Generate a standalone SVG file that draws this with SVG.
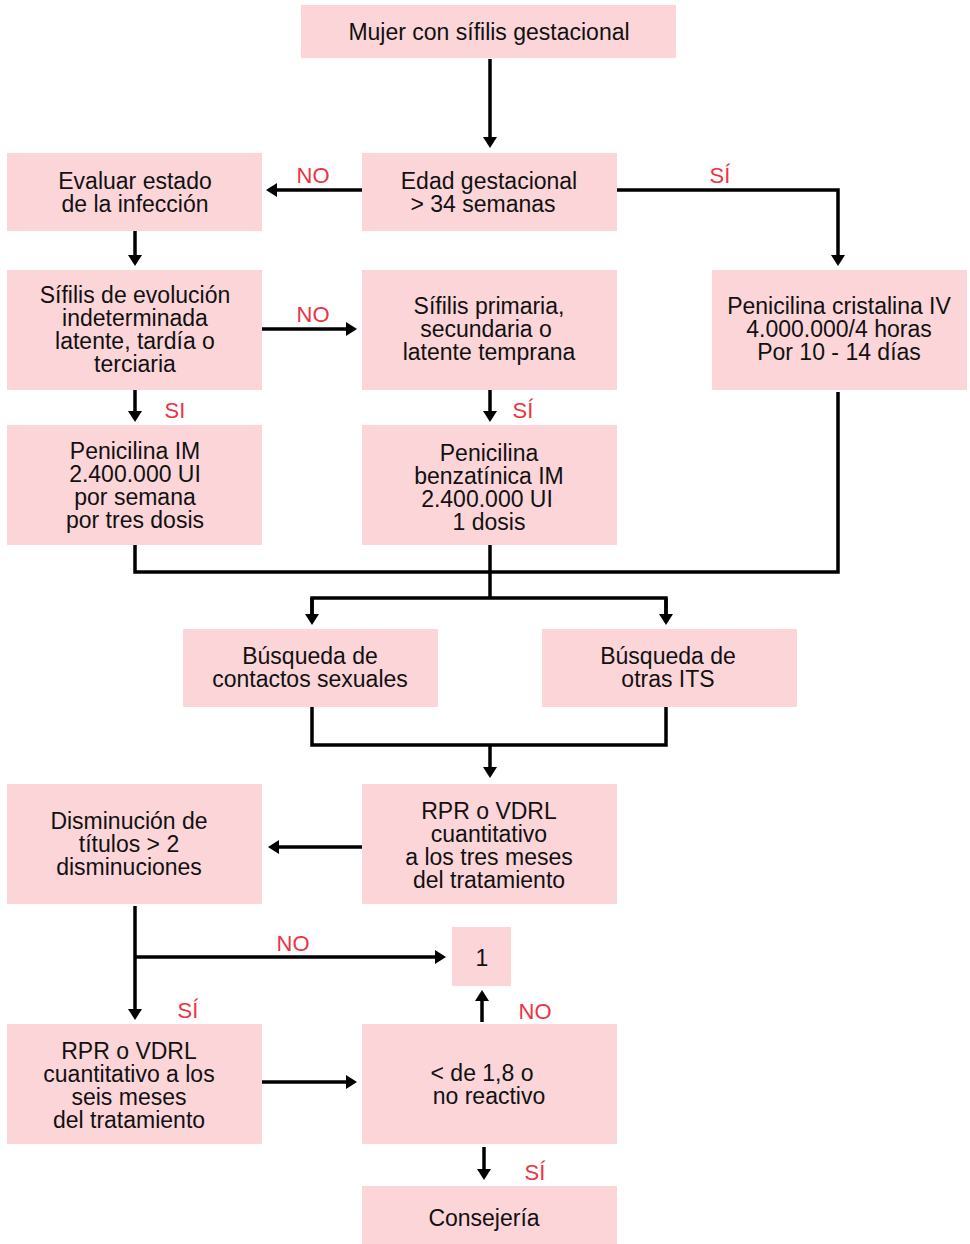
<svg xmlns="http://www.w3.org/2000/svg" width="970" height="1244" viewBox="0 0 970 1244">
<style>
.box{fill:#fcd5d9}
.t{font-family:"Liberation Sans",Arial,sans-serif;font-size:23px;fill:#111;text-anchor:middle}
.lbl{font-family:"Liberation Sans",Arial,sans-serif;font-size:22px;fill:#ee3344;text-anchor:middle}
.c{fill:none;stroke:#000;stroke-width:3.5}
</style>
<defs>
<marker id="ah" markerUnits="userSpaceOnUse" markerWidth="12" markerHeight="14" viewBox="0 0 12 14" refX="1" refY="7" orient="auto">
<path d="M0,0 L11,7 L0,14 z" fill="#000"/>
</marker>
</defs>
<rect width="970" height="1244" fill="#fff"/>
<g id="connectors">
<path class="c" d="M490,59 V138" marker-end="url(#ah)"/>
<path class="c" d="M362,190 H276" marker-end="url(#ah)"/>
<path class="c" d="M617,190 H838 V256" marker-end="url(#ah)"/>
<path class="c" d="M135,231 V256" marker-end="url(#ah)"/>
<path class="c" d="M262,329 H347" marker-end="url(#ah)"/>
<path class="c" d="M135,390 V412" marker-end="url(#ah)"/>
<path class="c" d="M490,390 V412" marker-end="url(#ah)"/>
<path class="c" d="M135,545 V572 H838 V392"/>
<path class="c" d="M490,545 V598"/>
<path class="c" d="M312,615 V598 H666 V615"/>
<path class="c" d="M312,598 V615" marker-end="url(#ah)"/>
<path class="c" d="M666,598 V615" marker-end="url(#ah)"/>
<path class="c" d="M312,707 V745 H666 V707"/>
<path class="c" d="M490,745 V768" marker-end="url(#ah)"/>
<path class="c" d="M362,847 H278" marker-end="url(#ah)"/>
<path class="c" d="M135,906 V1010" marker-end="url(#ah)"/>
<path class="c" d="M135,957 H436" marker-end="url(#ah)"/>
<path class="c" d="M482,1022 V1000" marker-end="url(#ah)"/>
<path class="c" d="M262,1082 H347" marker-end="url(#ah)"/>
<path class="c" d="M484,1147 V1170" marker-end="url(#ah)"/>
<text class="lbl" x="313" y="183">NO</text>
<text class="lbl" x="720" y="183">SÍ</text>
<text class="lbl" x="313" y="322">NO</text>
<text class="lbl" x="175" y="418">SI</text>
<text class="lbl" x="523" y="418">SÍ</text>
<text class="lbl" x="293" y="951">NO</text>
<text class="lbl" x="188" y="1018">SÍ</text>
<text class="lbl" x="535" y="1019">NO</text>
<text class="lbl" x="535" y="1180">SÍ</text>
</g>
<g id="n-mujer"><rect class="box" x="301" y="5" width="375" height="53"/><text class="t" x="489" y="40">Mujer con sífilis gestacional</text></g>
<g id="n-evaluar"><rect class="box" x="7" y="153" width="255" height="78"/><text class="t" x="135" y="189">Evaluar estado</text><text class="t" x="135" y="212">de la infección</text></g>
<g id="n-edad"><rect class="box" x="362" y="153" width="255" height="78"/><text class="t" x="489" y="189">Edad gestacional</text><text class="t" x="483" y="212">&gt; 34 semanas</text></g>
<g id="n-evol"><rect class="box" x="7" y="270" width="255" height="120"/><text class="t" x="135" y="303">Sífilis de evolución</text><text class="t" x="135" y="326">indeterminada</text><text class="t" x="135" y="349">latente, tardía o</text><text class="t" x="135" y="372">terciaria</text></g>
<g id="n-primaria"><rect class="box" x="362" y="270" width="255" height="120"/><text class="t" x="489" y="314">Sífilis primaria,</text><text class="t" x="486" y="337">secundaria o</text><text class="t" x="489" y="360">latente temprana</text></g>
<g id="n-cristalina"><rect class="box" x="712" y="270" width="255" height="120"/><text class="t" x="839" y="314">Penicilina cristalina IV</text><text class="t" x="839" y="337">4.000.000/4 horas</text><text class="t" x="839" y="360">Por 10 - 14 días</text></g>
<g id="n-penim"><rect class="box" x="7" y="425" width="255" height="120"/><text class="t" x="135" y="459">Penicilina IM</text><text class="t" x="135" y="482">2.400.000 UI</text><text class="t" x="135" y="505">por semana</text><text class="t" x="135" y="528">por tres dosis</text></g>
<g id="n-benz"><rect class="box" x="362" y="425" width="255" height="120"/><text class="t" x="489" y="461">Penicilina</text><text class="t" x="489" y="484">benzatínica IM</text><text class="t" x="487" y="507">2.400.000 UI</text><text class="t" x="489" y="530">1 dosis</text></g>
<g id="n-contactos"><rect class="box" x="183" y="629" width="255" height="78"/><text class="t" x="310" y="664">Búsqueda de</text><text class="t" x="310" y="687">contactos sexuales</text></g>
<g id="n-its"><rect class="box" x="542" y="629" width="255" height="78"/><text class="t" x="668" y="664">Búsqueda de</text><text class="t" x="668" y="687">otras ITS</text></g>
<g id="n-rpr3"><rect class="box" x="362" y="784" width="255" height="120"/><text class="t" x="489" y="819">RPR o VDRL</text><text class="t" x="489" y="842">cuantitativo</text><text class="t" x="489" y="865">a los tres meses</text><text class="t" x="489" y="888">del tratamiento</text></g>
<g id="n-dism"><rect class="box" x="7" y="784" width="255" height="120"/><text class="t" x="129" y="829">Disminución de</text><text class="t" x="129" y="852">títulos  &gt; 2</text><text class="t" x="129" y="875">disminuciones</text></g>
<g id="n-uno"><rect class="box" x="452" y="927" width="59" height="59"/><text class="t" x="482" y="966">1</text></g>
<g id="n-rpr6"><rect class="box" x="7" y="1024" width="255" height="120"/><text class="t" x="129" y="1059">RPR o VDRL</text><text class="t" x="129" y="1082">cuantitativo a los</text><text class="t" x="129" y="1105">seis meses</text><text class="t" x="129" y="1128">del tratamiento</text></g>
<g id="n-menor"><rect class="box" x="362" y="1024" width="255" height="120"/><text class="t" x="482" y="1081">&lt; de 1,8 o</text><text class="t" x="489" y="1104">no reactivo</text></g>
<g id="n-consejeria"><rect class="box" x="362" y="1186" width="255" height="58"/><text class="t" x="484" y="1226">Consejería</text></g>
</svg>
